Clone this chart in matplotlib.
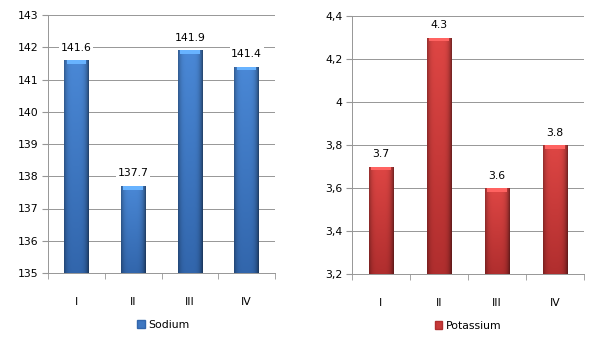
import numpy as np
import matplotlib
matplotlib.use("Agg")
import matplotlib.pyplot as plt
from matplotlib.patches import Rectangle
from matplotlib.ticker import FixedLocator, FuncFormatter

# data
categories = ["I", "II", "III", "IV"]
sodium = [141.6, 137.7, 141.9, 141.4]
potassium = [3.7, 4.3, 3.6, 3.8]

sodium_ticks = [135, 136, 137, 138, 139, 140, 141, 142, 143]
potassium_ticks = [3.2, 3.4, 3.6, 3.8, 4.0, 4.2, 4.4]

BLUE_TOP = np.array([74, 136, 214]) / 255
BLUE_BOT = np.array([50, 102, 172]) / 255
RED_TOP = np.array([222, 70, 68]) / 255
RED_BOT = np.array([176, 46, 46]) / 255

GRID = "#969696"
FONT = 7.8


def gradient(top, bot, nx=60, ny=100):
    u = np.linspace(0, 1, nx)
    v = np.linspace(0, 1, ny)[:, None]
    # lighter in the middle, darker towards both edges
    horiz = 1 - 0.4 * np.abs(2 * u - 0.95) ** 4
    base = top[None, None, :] * (1 - v[..., None]) + bot[None, None, :] * v[..., None]
    img = base * horiz[None, :, None]
    return np.clip(img, 0, 1)


def draw_panel(ax, values, ymin, ymax, ticks, top, bot, fmt_tick, fmt_val):
    x = np.arange(len(values))
    width = 0.43
    bars = ax.bar(x, np.array(values) - ymin, width, bottom=ymin,
                  color="none", edgecolor="none", zorder=3)
    img = gradient(top, bot)
    bevel = (ymax - ymin) * 0.014
    for b, v in zip(bars, values):
        x0 = b.get_x()
        im = ax.imshow(img, extent=(x0, x0 + width, ymin, v), aspect="auto",
                       zorder=3, interpolation="bilinear")
        im.set_clip_path(b)
        # light bevel on top of the bar
        hl = np.clip(top * 1.2 + 0.06, 0, 1)
        ax.add_patch(Rectangle((x0 + width * 0.1, v - bevel), width * 0.8, bevel,
                               facecolor=hl, edgecolor="none", zorder=4))
        ax.annotate(fmt_val(v), (x0 + width / 2, v), xytext=(0, 9),
                    textcoords="offset points", ha="center", va="center",
                    fontsize=FONT, zorder=5,
                    bbox=dict(boxstyle="square,pad=0.15", fc="white", ec="none"))

    ax.set_xlim(-0.5, len(values) - 0.5)
    ax.set_ylim(ymin, ymax)
    ax.set_yticks(ticks)
    ax.yaxis.set_major_formatter(FuncFormatter(fmt_tick))
    ax.set_xticks(x)
    ax.set_xticklabels(categories)
    ax.xaxis.set_minor_locator(FixedLocator(np.arange(-0.5, len(values), 1.0)))
    ax.tick_params(axis="x", which="major", length=0, pad=17, labelsize=FONT)
    ax.tick_params(axis="x", which="minor", length=4, color=GRID, direction="out")
    ax.tick_params(axis="y", length=4, color=GRID, labelsize=FONT, pad=3)
    ax.grid(axis="y", color=GRID, linewidth=0.7, zorder=0)
    ax.set_axisbelow(True)
    for s in ["top", "right"]:
        ax.spines[s].set_visible(False)
    for s in ["left", "bottom"]:
        ax.spines[s].set_color(GRID)
        ax.spines[s].set_linewidth(0.7)

    handle = Rectangle((0, 0), 1, 1, facecolor=(top + bot) / 2, edgecolor=bot)
    return handle


fig = plt.figure(figsize=(6.07, 3.52), dpi=100)
W, H = 607, 352

ax1 = fig.add_axes([48 / W, (H - 273) / H, (275 - 48) / W, (273 - 15) / H])
ax2 = fig.add_axes([352 / W, (H - 274) / H, (584 - 352) / W, (274 - 16) / H])

h1 = draw_panel(ax1, sodium, 135, 143, sodium_ticks, BLUE_TOP, BLUE_BOT,
                lambda v, p: f"{v:g}", lambda v: f"{v:.1f}")
h2 = draw_panel(ax2, potassium, 3.2, 4.4, potassium_ticks, RED_TOP, RED_BOT,
                lambda v, p: f"{v:g}".replace(".", ","), lambda v: f"{v:.1f}")

fig.legend([h1], ["Sodium"], loc="center", bbox_to_anchor=(163 / W, (H - 325) / H),
           frameon=False, fontsize=FONT, handlelength=0.7, handleheight=0.7,
           handletextpad=0.3)
fig.legend([h2], ["Potassium"], loc="center", bbox_to_anchor=(468 / W, (H - 326) / H),
           frameon=False, fontsize=FONT, handlelength=0.7, handleheight=0.7,
           handletextpad=0.3)

fig.savefig("out.png", dpi=100)
